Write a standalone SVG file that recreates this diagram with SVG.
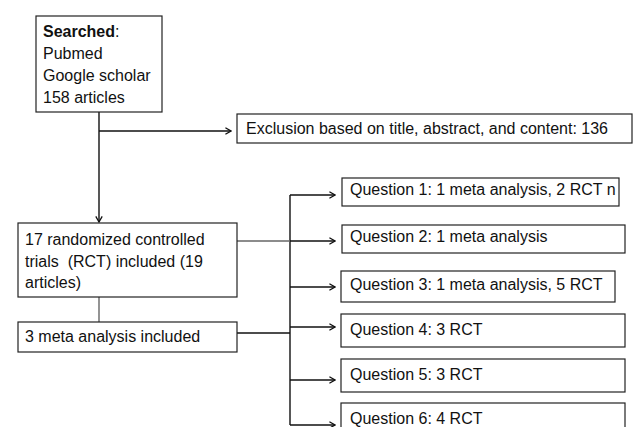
<svg xmlns="http://www.w3.org/2000/svg" width="633" height="427" viewBox="0 0 633 427">
  <style>
    .box { fill: #ffffff; stroke: #222222; stroke-width: 1.2; }
    .t { font-family: "Liberation Sans", Arial, sans-serif; font-size: 16px; fill: #111111; }
    .b { font-weight: bold; }
    .ln { fill: none; stroke: #111111; stroke-width: 1.4; }
    .gr { fill: none; stroke: #666666; stroke-width: 1.4; }
  </style>
  <defs>
    <marker id="arr" viewBox="0 0 10 10" refX="9" refY="5" markerWidth="8" markerHeight="8" markerUnits="userSpaceOnUse" orient="auto">
      <polyline points="2,1 9,5 2,9" fill="none" stroke="#111111" stroke-width="1.6"/>
    </marker>
  </defs>
  <rect width="633" height="427" fill="#ffffff"/>

  <g id="connectors">
    <path class="ln" d="M99,112 V222" marker-end="url(#arr)"/>
    <path class="ln" d="M99,131 H231" marker-end="url(#arr)"/>
    <path class="gr" d="M99,297 V322"/>
    <path class="ln" d="M237,333 H290"/>
    <path class="ln" d="M290,195 V425"/>
    <path class="ln" d="M290,195 H335" marker-end="url(#arr)"/>
    <path class="gr" d="M237,241 H290"/>
    <path class="ln" d="M290,241 H335" marker-end="url(#arr)"/>
    <path class="ln" d="M290,287 H335" marker-end="url(#arr)"/>
    <path class="ln" d="M290,327 H335" marker-end="url(#arr)"/>
    <path class="ln" d="M290,380 H335" marker-end="url(#arr)"/>
    <path class="ln" d="M290,425 H335" marker-end="url(#arr)"/>
  </g>

  <g id="searched">
    <rect class="box" x="36" y="16" width="126" height="96"/>
    <text class="t" x="43" y="37"><tspan class="b">Searched</tspan>:</text>
    <text class="t" x="43" y="59">Pubmed</text>
    <text class="t" x="43" y="81">Google scholar</text>
    <text class="t" x="43" y="103">158 articles</text>
  </g>

  <g id="exclusion">
    <rect class="box" x="237" y="114" width="395" height="29"/>
    <text class="t" x="246" y="134">Exclusion based on title, abstract, and content: 136</text>
  </g>

  <g id="rct">
    <rect class="box" x="18" y="223" width="219" height="74"/>
    <text class="t" x="25" y="245">17 randomized controlled</text>
    <text class="t" x="25" y="267" xml:space="preserve">trials  (RCT) included (19</text>
    <text class="t" x="25" y="288">articles)</text>
  </g>

  <g id="meta">
    <rect class="box" x="18" y="322" width="219" height="30"/>
    <text class="t" x="25" y="342">3 meta analysis included</text>
  </g>

  <g id="q1">
    <rect class="box" x="342" y="178" width="277" height="28"/>
    <text class="t" x="350" y="195">Question 1: 1 meta analysis, 2 RCT n</text>
  </g>
  <g id="q2">
    <rect class="box" x="342" y="225" width="283" height="28"/>
    <text class="t" x="350" y="242">Question 2: 1 meta analysis</text>
  </g>
  <g id="q3">
    <rect class="box" x="341" y="271" width="274" height="31"/>
    <text class="t" x="350" y="290">Question 3: 1 meta analysis, 5 RCT</text>
  </g>
  <g id="q4">
    <rect class="box" x="341" y="314" width="284" height="33"/>
    <text class="t" x="350" y="335">Question 4: 3 RCT</text>
  </g>
  <g id="q5">
    <rect class="box" x="341" y="359" width="284" height="33"/>
    <text class="t" x="350" y="380">Question 5: 3 RCT</text>
  </g>
  <g id="q6">
    <rect class="box" x="341" y="403" width="284" height="40"/>
    <text class="t" x="350" y="424">Question 6: 4 RCT</text>
  </g>
</svg>
